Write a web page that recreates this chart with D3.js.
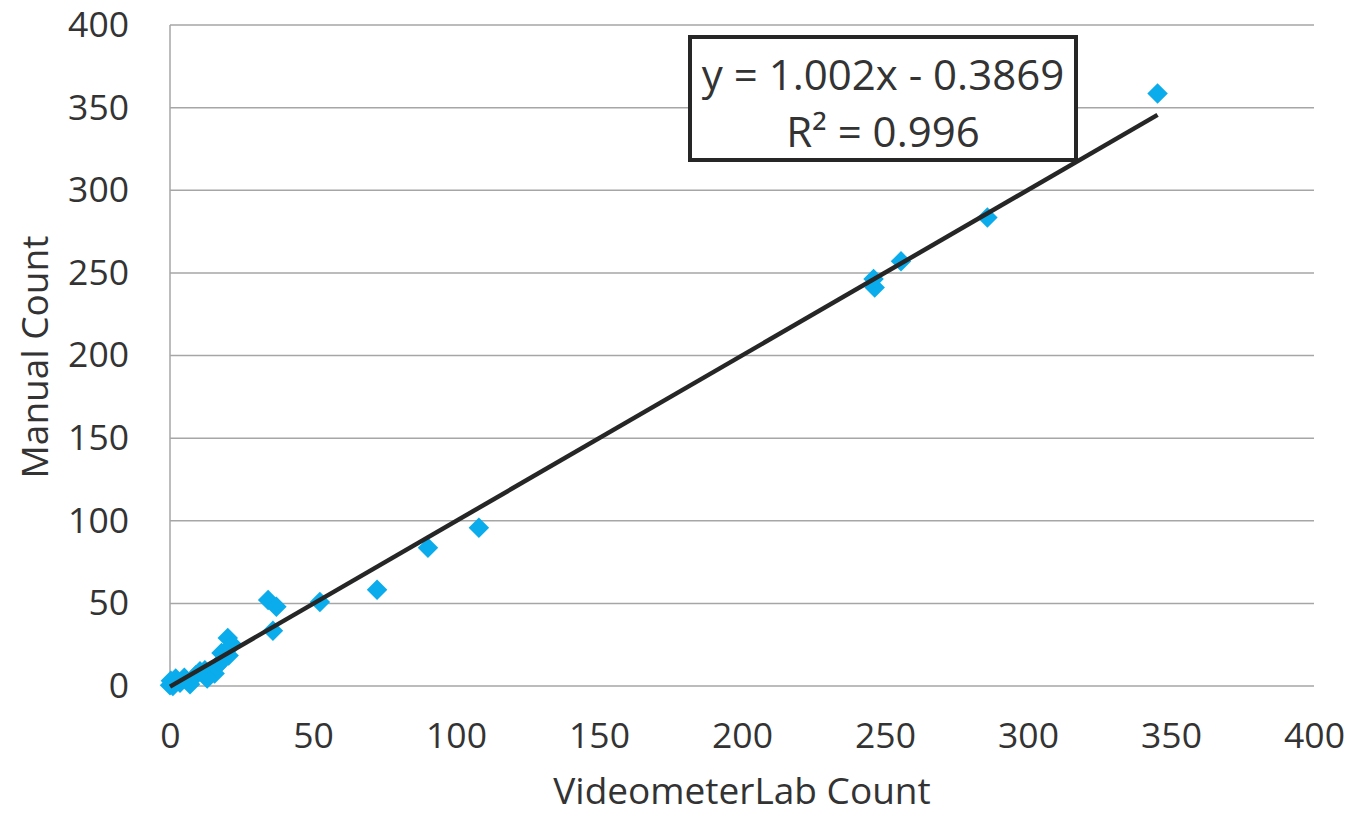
<!DOCTYPE html>
<html>
<head>
<meta charset="utf-8">
<script src="https://cdn.jsdelivr.net/npm/d3@7"></script>
<style>
  html, body { margin: 0; padding: 0; background: #fff; }
  svg text { font-family: "Open Sans", sans-serif; fill: #333; }
</style>
</head>
<body>
<svg id="chart" width="1351" height="817"></svg>
<script>
// Scatter: VideometerLab vs manual counts
const videometer = [345.3, 285.8, 255.6, 246.0, 246.4, 108.0, 90.2, 72.4, 52.4, 36.0, 34.3, 37.2,
  20.2, 21.8, 20.5, 17.6, 16.2, 18.0, 12.2, 15.6, 9.0, 5.0, 2.0, 0.3, 0.0, 7.0, 13.0, 3.5, 1.0, 10.5];
const manual = [358.6, 283.5, 257.0, 246.3, 241.2, 95.8, 83.6, 58.2, 50.9, 33.5, 52.1, 47.9,
  29.0, 25.0, 18.5, 14.0, 11.8, 20.0, 9.5, 7.5, 6.5, 5.0, 4.5, 3.2, 0.5, 1.0, 4.5, 2.0, 0.0, 9.0];
const xTicks = [0, 50, 100, 150, 200, 250, 300, 350, 400];
const yTicks = [0, 50, 100, 150, 200, 250, 300, 350, 400];
const slope = 1.002, intercept = -0.3869;
const eqLines = ["y = 1.002x - 0.3869", "R² = 0.996"];

const margin = { top: 25, right: 37, bottom: 131, left: 170 };
const svg = d3.select("#chart");
const W = 1351, H = 817;
const iw = W - margin.left - margin.right, ih = H - margin.top - margin.bottom;
const g = svg.append("g").attr("transform", `translate(${margin.left},${margin.top})`);

const x = d3.scaleLinear().domain([0, 400]).range([0, iw]);
const y = d3.scaleLinear().domain([0, 400]).range([ih, 0]);

// gridlines
g.append("g").selectAll("line").data(yTicks).join("line")
  .attr("x1", 0).attr("x2", iw)
  .attr("y1", d => y(d)).attr("y2", d => y(d))
  .attr("stroke", "#a6a6a6").attr("stroke-width", 1.5);

// left axis line
g.append("line").attr("x1", 0).attr("x2", 0).attr("y1", 0).attr("y2", ih)
  .attr("stroke", "#a6a6a6").attr("stroke-width", 1.5);

// axes (labels only)
const yAxis = g.append("g").call(d3.axisLeft(y).tickValues(yTicks).tickSize(0).tickPadding(41));
yAxis.select(".domain").remove();
yAxis.selectAll("text").style("font-size", "35.5px").attr("fill", "#333");

const xAxis = g.append("g").attr("transform", `translate(0,${ih})`)
  .call(d3.axisBottom(x).tickValues(xTicks).tickSize(0).tickPadding(37));
xAxis.select(".domain").remove();
xAxis.selectAll("text").style("font-size", "35.5px").attr("fill", "#333");

// points
const pts = videometer.map((v, i) => ({ x: v, y: manual[i] }));
g.selectAll("path.pt").data(pts).join("path")
  .attr("class", "pt")
  .attr("d", d3.symbol(d3.symbolSquare, 210))
  .attr("transform", d => `translate(${x(d.x)},${y(d.y)}) rotate(45)`)
  .attr("fill", "#0aacec");

// trendline
const xMax = d3.max(videometer);
g.append("line")
  .attr("x1", x(0)).attr("y1", y(slope * 0 + intercept))
  .attr("x2", x(xMax)).attr("y2", y(slope * xMax + intercept))
  .attr("stroke", "#262626").attr("stroke-width", 4.5);

// equation box
const box = svg.append("g").attr("transform", "translate(690,37)");
box.append("rect").attr("width", 386).attr("height", 123)
  .attr("fill", "#fff").attr("stroke", "#262626").attr("stroke-width", 4);
box.selectAll("text").data(eqLines).join("text")
  .attr("x", 193).attr("y", (d, i) => 53 + i * 57)
  .attr("text-anchor", "middle").style("font-size", "42px")
  .text(d => d);

// axis titles
svg.append("text").attr("x", 742).attr("y", 804)
  .attr("text-anchor", "middle").style("font-size", "37px")
  .text("VideometerLab Count");
svg.append("text")
  .attr("transform", "translate(48,357) rotate(-90)")
  .attr("text-anchor", "middle").style("font-size", "37px")
  .text("Manual Count");
</script>
</body>
</html>
